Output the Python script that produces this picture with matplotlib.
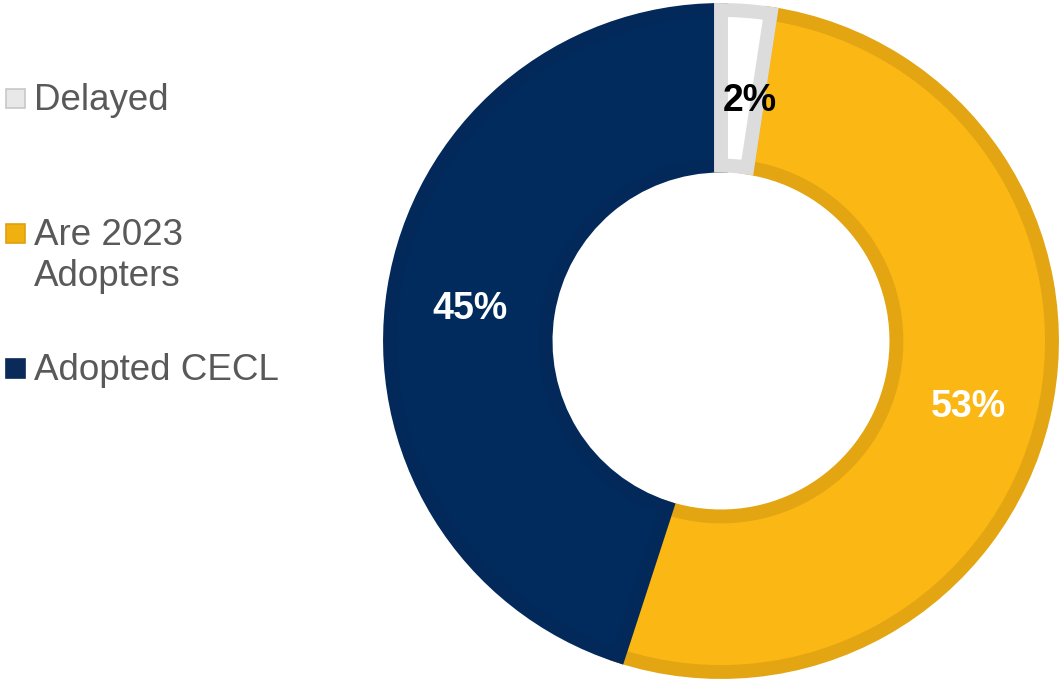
import matplotlib
matplotlib.use("Agg")
import matplotlib.pyplot as plt
from matplotlib.patches import Rectangle

labels = ["Delayed", "Are 2023\nAdopters", "Adopted CECL"]
values = [2.4, 52.6, 45.0]
fills = ["#FFFFFF", "#FBB713", "#002B5C"]
edges = ["#DCDCDC", "#E3A512", "#02295A"]
legend_fills = ["#E8E8E8", "#F0B00F", "#0A2A5A"]
legend_edges = ["#C8C8C8", "#E0A010", "#0A2A5A"]
pct_colors = ["black", "white", "white"]

W, H = 1061, 682
fig = plt.figure(figsize=(W / 100, H / 100), dpi=100)
fig.patch.set_facecolor("white")

cx, cy, R = 721, 341, 331
ax = fig.add_axes([(cx - R) / W, (H - cy - R) / H, 2 * R / W, 2 * R / H])

wedges, texts, autotexts = ax.pie(
    values, colors=fills, startangle=90, counterclock=False, radius=1.0,
    wedgeprops=dict(width=0.47, linewidth=10, joinstyle="miter"),
    autopct=lambda p: f"{p:.0f}%", pctdistance=0.767,
    textprops=dict(family="Liberation Sans", fontsize=27, fontweight="bold"),
)
ax.set_xlim(-1, 1)
ax.set_ylim(-1, 1)
ax.set_aspect("equal")
ax.axis("off")
for w, ec in zip(wedges, edges):
    w.set_edgecolor(ec)
wedges[0].set_zorder(wedges[0].get_zorder() + 0.5)
for t, c in zip(autotexts, pct_colors):
    t.set_color(c)
    t.set_zorder(5)
    x0, y0 = t.get_position()
    t.set_position((x0, y0 - 0.024))
# small-slice label sits a bit to the right, as in the reference
autotexts[0].set_position((0.0876, 0.725))

# legend drawn manually
leg_y = [100, 256, 370]
sq_y = [98, 233, 368]
for lab, fy, sy, fc, ec in zip(labels, leg_y, sq_y, legend_fills, legend_edges):
    fig.add_artist(Rectangle(((6) / W, (H - sy - 9.5) / H), 19 / W, 19 / H,
                             transform=fig.transFigure, facecolor=fc,
                             edgecolor=ec, linewidth=1.2))
    fig.text(34 / W, (H - fy) / H, lab, family="Liberation Sans", fontsize=26.5,
             color="#595959", va="center", ha="left", linespacing=1.22)

fig.savefig("out.png", dpi=100)
